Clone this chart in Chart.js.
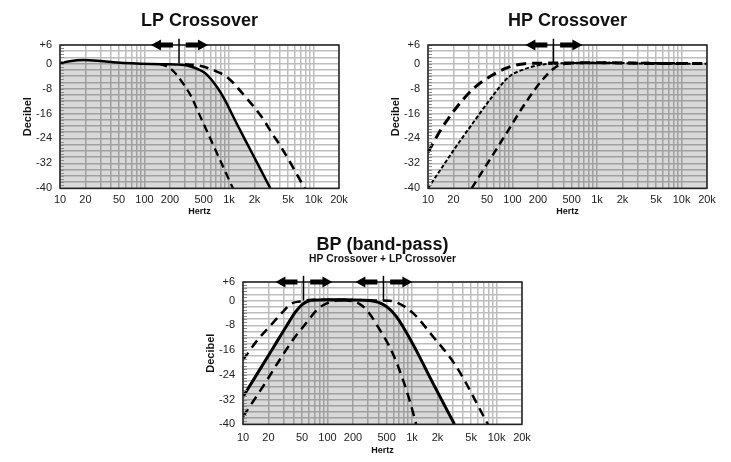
<!DOCTYPE html>
<html>
<head>
<meta charset="utf-8">
<script src="https://cdn.jsdelivr.net/npm/chart.js@4.4.1/dist/chart.umd.min.js"></script>
<style>
  body { margin: 0; background: #fff; }
  #wrap { position: relative; width: 731px; height: 462px; }
  canvas { position: absolute; }
</style>
</head>
<body>
<div id="wrap">
  <canvas id="lpChart" width="359" height="220" style="left:0px;top:0px"></canvas>
  <canvas id="hpChart" width="359" height="220" style="left:368px;top:0px"></canvas>
  <canvas id="bpChart" width="359" height="232" style="left:183px;top:230px"></canvas>
</div>
<script>
// axis ticks
const xTickValues = [10, 20, 50, 100, 200, 500, 1000, 2000, 5000, 10000, 20000];
const xTickLabels = ['10', '20', '50', '100', '200', '500', '1k', '2k', '5k', '10k', '20k'];
const yTickValues = [6, 0, -8, -16, -24, -32, -40];
const yTickLabels = ['+6', '0', '-8', '-16', '-24', '-32', '-40'];

// LP Crossover
const lpSolidHz = [10, 13, 19, 30, 47, 118, 200, 256, 294, 350, 424, 520, 610, 720, 876, 1210, 1590, 2206, 3078];
const lpSolidDb = [0.1, 0.8, 1.2, 0.9, 0.4, -0.1, -0.2, -0.3, -0.4, -0.9, -1.7, -3.0, -4.9, -7.5, -11.2, -18.8, -25, -32.4, -40];
const lpLowHz = [150, 194, 230, 280, 352, 424, 600, 800, 1112];
const lpLowDb = [-0.1, -1.2, -3.0, -6, -10.2, -15, -24, -31.5, -40];
const lpHighHz = [300, 400, 507, 700, 959, 1514, 2525, 3160, 4140, 7870];
const lpHighDb = [-0.2, -0.4, -1.0, -2.4, -4.4, -10.2, -17.7, -22, -26.8, -40];
const lpCrossoverHz = [256];

// HP Crossover
const hpSolidHz = [10, 22.7, 35.8, 56.6, 89, 140, 222, 305, 500, 1000, 2000, 5000, 20000];
const hpSolidDb = [-40, -25.7, -18.2, -10.8, -4.4, -1.7, -0.3, 0, 0.2, 0.3, 0.2, 0, 0];
const hpUpperHz = [10, 14.4, 22.7, 35.8, 56.6, 89, 140, 300, 1000, 5000, 20000];
const hpUpperDb = [-28.5, -20.9, -13.4, -7.6, -3.8, -1.2, 0, 0.2, 0.3, 0.1, 0.1];
const hpLowerHz = [32.8, 56.6, 89, 140, 222, 320, 420, 700, 2000, 20000];
const hpLowerDb = [-40, -29.9, -21.4, -12.9, -5.4, -1.2, 0, 0.2, 0.2, 0.1];
const hpCrossoverHz = [305];

// BP (band-pass)
const bpSolidHz = [10, 22.6, 32.6, 42, 50, 64.3, 106, 200, 314, 493, 651, 1020, 1766, 3178];
const bpSolidDb = [-31.1, -15.4, -8.3, -3.6, -1.3, 0.1, 0.3, 0.2, 0, -1.8, -5.1, -14.0, -26.7, -40];
const bpUpperLeftHz = [10, 14.4, 22.6, 30, 37.3, 46.8, 60, 100, 200];
const bpUpperLeftDb = [-19.2, -13.2, -7.2, -3.5, -1.0, -0.3, 0.2, 0.3, 0.2];
const bpLowerLeftHz = [10, 17.2, 27.1, 39, 56.2, 76.9, 101, 130, 200];
const bpLowerLeftDb = [-37.5, -27.8, -19.2, -12.7, -7.2, -2.7, -0.75, 0, 0.2];
const bpLowerRightHz = [100, 199, 287, 414, 543, 700, 930, 1120];
const bpLowerRightDb = [0.2, -0.2, -2.9, -9.4, -15, -22, -32, -40];
const bpUpperRightHz = [300, 459, 656, 1020, 1766, 3335, 7900];
const bpUpperRightDb = [0, 0, -0.6, -4, -11.6, -21.3, -40];
const bpCrossoverHz = [52, 459];

const FONT = "'Liberation Sans', Arial, Helvetica, sans-serif";
const GRID = '#bdbdbd';
const FILL = 'rgba(0,0,0,0.15)';

Chart.defaults.font.family = FONT;
Chart.defaults.color = '#222';

function pts(xs, ys) {
  return xs.map((x, i) => ({ x: x, y: ys[i] }));
}

function logGrid(min, max) {
  const t = [];
  for (let d = 1; d <= 100000; d *= 10) {
    for (let m = 1; m <= 9; m++) {
      const v = m * d;
      if (v >= min && v <= max) t.push({ value: v });
    }
  }
  return t;
}

function drawArrow(ctx, x0, x1, yy) {
  const dir = Math.sign(x1 - x0);
  const hl = 10, hh = 5.5, sh = 2.5;
  ctx.beginPath();
  ctx.moveTo(x0, yy - sh);
  ctx.lineTo(x1 - dir * hl, yy - sh);
  ctx.lineTo(x1 - dir * hl, yy - hh);
  ctx.lineTo(x1, yy);
  ctx.lineTo(x1 - dir * hl, yy + hh);
  ctx.lineTo(x1 - dir * hl, yy + sh);
  ctx.lineTo(x0, yy + sh);
  ctx.closePath();
  ctx.fill();
}

// frame, ruler ticks on the left edge, crossover markers with arrows
const crossoverMarks = {
  id: 'crossoverMarks',
  afterDatasetsDraw(chart, args, opts) {
    const { ctx, chartArea: a, scales: { x, y } } = chart;
    ctx.save();
    ctx.strokeStyle = '#8c8c8c';
    ctx.lineWidth = 1;
    for (let v = -40; v <= 6; v += 1) {
      const py = Math.round(y.getPixelForValue(v)) + 0.5;
      ctx.beginPath();
      ctx.moveTo(a.left, py);
      ctx.lineTo(a.left + 4, py);
      ctx.stroke();
    }
    ctx.strokeStyle = '#222';
    ctx.lineWidth = 1.5;
    ctx.strokeRect(a.left, a.top, a.right - a.left, a.bottom - a.top);

    ctx.fillStyle = '#000';
    const yTop = y.getPixelForValue(6);
    (opts.hz || []).forEach(f => {
      drawArrow(ctx, x.getPixelForValue(f / 1.18), x.getPixelForValue(f / 2.15), yTop);
      drawArrow(ctx, x.getPixelForValue(f * 1.2), x.getPixelForValue(f * 2.2), yTop);
      const px = x.getPixelForValue(f);
      ctx.lineWidth = 1.5;
      ctx.strokeStyle = '#000';
      ctx.beginPath();
      ctx.moveTo(px, y.getPixelForValue(8));
      ctx.lineTo(px, y.getPixelForValue(0));
      ctx.stroke();
    });
    ctx.restore();
  }
};

function solid(data, width, dash) {
  return {
    data: data, borderColor: '#000', borderWidth: width, borderDash: dash || [],
    fill: 'start', backgroundColor: FILL, pointRadius: 0, cubicInterpolationMode: 'monotone'
  };
}

function dashed(data, width, dash) {
  return {
    data: data, borderColor: '#000', borderWidth: width, borderDash: dash,
    fill: false, pointRadius: 0, cubicInterpolationMode: 'monotone'
  };
}

function makeChart(id, cfg) {
  return new Chart(document.getElementById(id), {
    type: 'line',
    data: { datasets: cfg.datasets },
    options: {
      responsive: false,
      animation: false,
      devicePixelRatio: 1,
      layout: { padding: { left: 0, right: 20, top: 0, bottom: 0 } },
      plugins: {
        legend: { display: false },
        tooltip: { enabled: false },
        filler: { drawTime: 'beforeDatasetsDraw' },
        title: {
          display: true, text: cfg.title, fullSize: false, color: '#111',
          font: { size: 18, weight: 'bold', lineHeight: 1 },
          padding: cfg.titlePad
        },
        subtitle: {
          display: !!cfg.subtitle, text: cfg.subtitle || '', fullSize: false, color: '#111',
          font: { size: 10.3, weight: 'bold', lineHeight: 1 },
          padding: cfg.subPad || { top: 0, bottom: 0 }
        },
        crossoverMarks: { hz: cfg.crossover }
      },
      scales: {
        x: {
          type: 'logarithmic', min: 10, max: 20000,
          afterBuildTicks: s => { s.ticks = logGrid(10, 20000); },
          afterFit: s => { s.height = cfg.xHeight; },
          grid: { color: GRID, lineWidth: 1.5, drawTicks: false },
          border: { display: false },
          ticks: {
            autoSkip: false, maxRotation: 0, minRotation: 0, padding: cfg.xTickPad,
            font: { size: 11 },
            callback: v => {
              const i = xTickValues.indexOf(Number(v));
              return i >= 0 ? xTickLabels[i] : '';
            }
          },
          title: {
            display: true, text: 'Hertz', color: '#111',
            font: { size: 9, weight: 'bold' },
            padding: { top: 0, bottom: cfg.xTitlePad }
          }
        },
        y: {
          type: 'linear', min: -40, max: 6,
          afterBuildTicks: s => {
            const t = [];
            for (let v = -40; v <= 6; v += 2) t.push({ value: v });
            s.ticks = t;
          },
          afterFit: s => { s.width = 60; },
          grid: { color: GRID, lineWidth: 1.5, drawTicks: false },
          border: { display: false },
          ticks: {
            autoSkip: false, padding: 8, font: { size: 11 },
            callback: v => {
              const i = yTickValues.indexOf(Number(v));
              return i >= 0 ? yTickLabels[i] : '';
            }
          },
          title: {
            display: true, text: 'Decibel', color: '#111',
            font: { size: 11, weight: 'bold' },
            padding: { top: 21.5, bottom: 0 }
          }
        }
      }
    },
    plugins: [crossoverMarks]
  });
}

makeChart('lpChart', {
  title: 'LP Crossover',
  titlePad: { top: 12.5, bottom: 14.5 },
  xHeight: 31.7, xTickPad: 5.5, xTitlePad: 2.8,
  crossover: lpCrossoverHz,
  datasets: [
    solid(pts(lpSolidHz, lpSolidDb), 2.5),
    dashed(pts(lpLowHz, lpLowDb), 2.3, [8, 5]),
    dashed(pts(lpHighHz, lpHighDb), 2.6, [9, 6])
  ]
});

makeChart('hpChart', {
  title: 'HP Crossover',
  titlePad: { top: 12.5, bottom: 14.5 },
  xHeight: 31.7, xTickPad: 5.5, xTitlePad: 2.8,
  crossover: hpCrossoverHz,
  datasets: [
    solid(pts(hpSolidHz, hpSolidDb), 2, [4, 2]),
    dashed(pts(hpUpperHz, hpUpperDb), 3, [10, 6]),
    dashed(pts(hpLowerHz, hpLowerDb), 2.5, [8, 5])
  ]
});

makeChart('bpChart', {
  title: 'BP (band-pass)',
  subtitle: 'HP Crossover + LP Crossover',
  titlePad: { top: 6, bottom: 0 },
  subPad: { top: 0, bottom: 17.7 },
  xHeight: 37.7, xTickPad: 7.4, xTitlePad: 6.5,
  crossover: bpCrossoverHz,
  datasets: [
    solid(pts(bpSolidHz, bpSolidDb), 3),
    dashed(pts(bpUpperLeftHz, bpUpperLeftDb), 2.5, [9, 6]),
    dashed(pts(bpLowerLeftHz, bpLowerLeftDb), 2.5, [9, 6]),
    dashed(pts(bpLowerRightHz, bpLowerRightDb), 2.5, [9, 6]),
    dashed(pts(bpUpperRightHz, bpUpperRightDb), 2.5, [9, 6])
  ]
});
</script>
</body>
</html>
